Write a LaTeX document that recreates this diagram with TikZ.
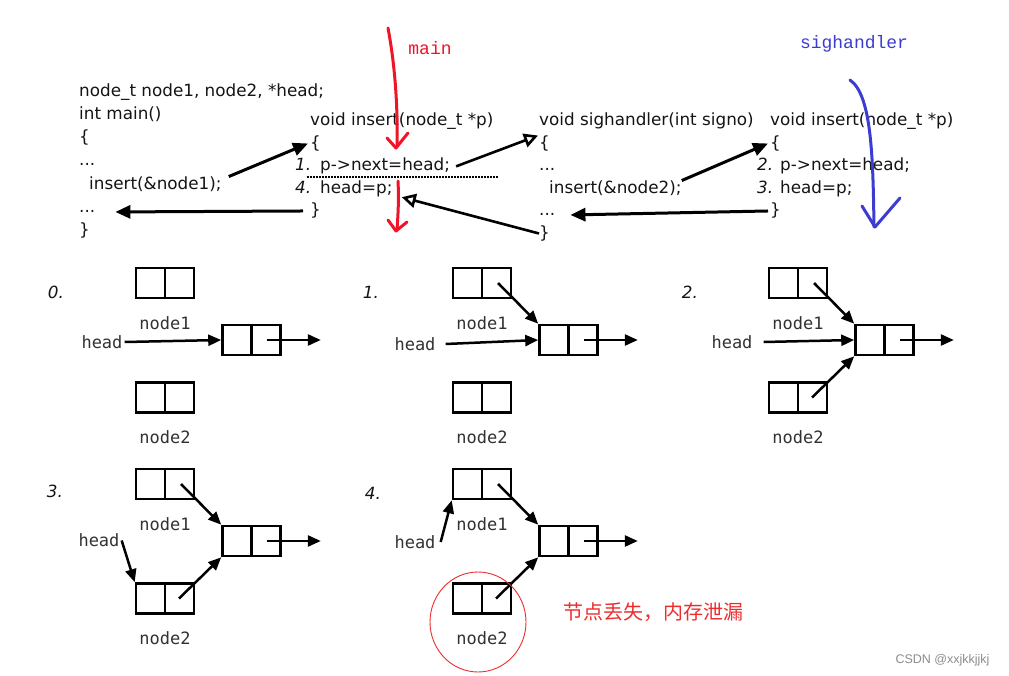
\documentclass[tikz,border=0pt]{standalone}
\usepackage{fontspec}
\setmainfont{DejaVu Sans}
\newfontfamily\monofont{DejaVu Sans Mono}
\newfontfamily\handfont{Liberation Mono}
\newfontfamily\cjkfont{Noto Sans CJK SC}
\newfontfamily\markfont{Liberation Sans}
\usetikzlibrary{arrows.meta, positioning, shapes.geometric}
\definecolor{codegray}{RGB}{20,20,20}
\definecolor{labelgray}{RGB}{50,50,50}
\definecolor{handred}{RGB}{240,20,40}
\definecolor{handblue}{RGB}{60,60,210}
\definecolor{notered}{RGB}{235,45,45}
\definecolor{markgray}{RGB}{140,140,140}
\tikzset{
  codeline/.style={
    anchor=base west, inner sep=0pt, text=codegray,
    font=\fontsize{16.8}{20}\selectfont
  },
  stepno/.style={
    codeline, font=\fontsize{16.8}{20}\selectfont\itshape
  },
  listbox/.style={
    draw=black, fill=white, line width=2.6pt,
    minimum width=58pt, minimum height=30pt, inner sep=0pt,
    path picture={\draw[line width=2.6pt]
      (path picture bounding box.north) -- (path picture bounding box.south);}
  },
  nodelabel/.style={
    font=\monofont\fontsize{17}{20}\selectfont,
    text=labelgray, inner sep=2pt
  },
  panelno/.style={
    font=\fontsize{16.8}{20}\selectfont\itshape, text=codegray
  },
  callarrow/.style={
    -{Triangle[length=15pt,width=13pt]}, line width=3pt
  },
  sigarrow/.style={
    -{Triangle[open,length=14pt,width=14pt]}, line width=2.6pt
  },
  ptrarrow/.style={
    -{Triangle[length=13pt,width=11pt]}, line width=2.5pt
  },
  handpen/.style={
    line width=3pt, line cap=round, line join=round
  },
}
\begin{document}
\begin{tikzpicture}[x=1pt, y=1pt]

  \useasboundingbox (0,0) rectangle (1009,-676);

  %% main()
  \node[codeline] (mdecl)  at (79,-96.5)  {node\_t node1, node2, *head;};
  \node[codeline] (mint)   at (79,-120)   {int main()};
  \node[codeline] (mopen)  at (79,-143)   {\{};
  \node[codeline] (mdots1) at (79,-166)   {...};
  \node[codeline] (mcall)  at (89,-189.5) {insert(\&node1);};
  \node[codeline] (mdots2) at (79,-213)   {...};
  \node[codeline] (mclose) at (79,-236)   {\}};

  %% insert() from main
  \node[codeline] (idecl)  at (310,-126)   {void insert(node\_t *p)};
  \node[codeline] (iopen)  at (310,-148.5) {\{};
  \node[stepno]   (istep1) at (295,-171)   {1.};
  \node[codeline] (inext)  at (320,-171)   {p->next=head;};
  \node[stepno]   (istep4) at (295,-193.5) {4.};
  \node[codeline] (ihead)  at (320,-193.5) {head=p;};
  \node[codeline] (iclose) at (310,-216)   {\}};

  %% sighandler()
  \node[codeline] (sdecl)  at (539,-126)   {void sighandler(int signo)};
  \node[codeline] (sopen)  at (539,-148.5) {\{};
  \node[codeline] (sdots1) at (539,-171)   {...};
  \node[codeline] (scall)  at (549,-193.5) {insert(\&node2);};
  \node[codeline] (sdots2) at (539,-216)   {...};
  \node[codeline] (sclose) at (539,-238.5) {\}};

  %% insert() from sighandler
  \node[codeline] (jdecl)  at (770,-126)   {void insert(node\_t *p)};
  \node[codeline] (jopen)  at (770,-148.5) {\{};
  \node[stepno]   (jstep2) at (757,-171)   {2.};
  \node[codeline] (jnext)  at (780,-171)   {p->next=head;};
  \node[stepno]   (jstep3) at (757,-193.5) {3.};
  \node[codeline] (jhead)  at (780,-193.5) {head=p;};
  \node[codeline] (jclose) at (770,-216)   {\}};

  %% calls and returns
  \draw[callarrow] ([xshift=7pt]mcall.north east) -- ([xshift=-2pt]iopen.west);
  \draw[callarrow] ([xshift=-7pt]iclose.west) -- ([xshift=20pt]mdots2.east);
  \draw[sigarrow] ([xshift=6pt]inext.east) -- ([xshift=-1pt]sopen.north west);
  \draw[sigarrow] (sclose.west) -- ([xshift=9pt]ihead.south east);
  \draw[callarrow] (scall.north east) -- ([xshift=-2pt]jopen.west);
  \draw[callarrow] ([xshift=-2pt]jclose.west) -- ([xshift=15pt]sdots2.east);

  \draw[line width=2pt, dash pattern=on 1.6pt off 1.4pt] (307,-177) -- (498,-177);

  %% hand marks
  \draw[handpen, handred] (388,-28) .. controls (394,-60) and (398,-100) .. (397,-146);
  \draw[handpen, handred] (387,-138) -- (396,-148) -- (408,-133);
  \draw[handpen, handred] (398,-181) .. controls (399,-200) and (398,-215) .. (397,-230);
  \draw[handpen, handred] (388,-220) -- (396,-231) -- (407,-222);
  \node[font=\handfont\fontsize{18}{20}\selectfont, text=handred] (mainlbl) at (430,-48) {main};

  \draw[handpen, handblue] (850,-80) .. controls (872,-95) and (873,-160) .. (874,-227);
  \draw[handpen, handblue] (862,-206) -- (875,-227) -- (900,-198);
  \node[font=\handfont\fontsize{18}{20}\selectfont, text=handblue] (siglbl) at (854,-44) {sighandler};

  %% 0.
  \node[panelno] (p0) at (56,-292) {0.};
  \node[listbox] (n1p0) at (165,-283) {};
  \node[nodelabel, below=15pt of n1p0] (n1l0) {node1};
  \node[listbox] (lst0) at (251.5,-340) {};
  \node[listbox] (n2p0) at (165,-397.5) {};
  \node[nodelabel, below=15pt of n2p0] (n2l0) {node2};
  \node[nodelabel] (hd0) at (102,-342) {head};
  \coordinate (nil0) at ([xshift=39pt]lst0.east);
  \draw[ptrarrow] (hd0.east) -- (lst0.west);
  \draw[ptrarrow] ([xshift=15pt]lst0.center) -- (nil0);

  %% 1.
  \begin{scope}[shift={(317,0)}]
    \node[panelno] (p1) at (54,-292) {1.};
    \node[listbox] (n1p1) at (165,-283) {};
    \node[nodelabel, below=15pt of n1p1] (n1l1) {node1};
    \node[listbox] (lst1) at (251.5,-340) {};
    \node[listbox] (n2p1) at (165,-397.5) {};
    \node[nodelabel, below=15pt of n2p1] (n2l1) {node2};
    \node[nodelabel] (hd1) at (98,-344) {head};
    \coordinate (nil1) at ([xshift=39pt]lst1.east);
    \draw[ptrarrow] ([xshift=8pt]hd1.east) -- (lst1.west);
    \draw[ptrarrow] ([xshift=15pt]lst1.center) -- (nil1);
    \draw[ptrarrow] ([xshift=16pt]n1p1.center) -- (lst1.north west);
  \end{scope}

  %% 2.
  \begin{scope}[shift={(633,0)}]
    \node[panelno] (p2) at (57,-292) {2.};
    \node[listbox] (n1p2) at (165,-283) {};
    \node[nodelabel, below=15pt of n1p2] (n1l2) {node1};
    \node[listbox] (lst2) at (251.5,-340) {};
    \node[listbox] (n2p2) at (165,-397.5) {};
    \node[nodelabel, below=15pt of n2p2] (n2l2) {node2};
    \node[nodelabel] (hd2) at (99,-342) {head};
    \coordinate (nil2) at ([xshift=39pt]lst2.east);
    \draw[ptrarrow] ([xshift=9pt]hd2.east) -- (lst2.west);
    \draw[ptrarrow] ([xshift=15pt]lst2.center) -- (nil2);
    \draw[ptrarrow] ([xshift=16pt]n1p2.center) -- (lst2.north west);
    \draw[ptrarrow] ([xshift=14pt]n2p2.center) -- (lst2.south west);
  \end{scope}

  %% 3.
  \begin{scope}[shift={(0,-201)}]
    \node[panelno] (p3) at (55,-290) {3.};
    \node[listbox] (n1p3) at (165,-283) {};
    \node[nodelabel, below=15pt of n1p3] (n1l3) {node1};
    \node[listbox] (lst3) at (251.5,-340) {};
    \node[listbox] (n2p3) at (165,-397.5) {};
    \node[nodelabel, below=15pt of n2p3] (n2l3) {node2};
    \node[nodelabel] (hd3) at (99,-339.5) {head};
    \coordinate (nil3) at ([xshift=39pt]lst3.east);
    \draw[ptrarrow] (hd3.east) -- (n2p3.north west);
    \draw[ptrarrow] ([xshift=15pt]lst3.center) -- (nil3);
    \draw[ptrarrow] ([xshift=16pt]n1p3.center) -- (lst3.north west);
    \draw[ptrarrow] ([xshift=14pt]n2p3.center) -- (lst3.south west);
  \end{scope}

  %% 4.
  \begin{scope}[shift={(317,-201)}]
    \node[panelno] (p4) at (56,-292) {4.};
    \node[listbox] (n1p4) at (165,-283) {};
    \node[nodelabel, below=15pt of n1p4] (n1l4) {node1};
    \node[listbox] (lst4) at (251.5,-340) {};
    \node[listbox] (n2p4) at (165,-397.5) {};
    \node[nodelabel, below=15pt of n2p4] (n2l4) {node2};
    \node[nodelabel] (hd4) at (98,-341) {head};
    \coordinate (nil4) at ([xshift=39pt]lst4.east);
    \draw[ptrarrow] ([xshift=3pt]hd4.east) -- (n1p4.south west);
    \draw[ptrarrow] ([xshift=15pt]lst4.center) -- (nil4);
    \draw[ptrarrow] ([xshift=16pt]n1p4.center) -- (lst4.north west);
    \draw[ptrarrow] ([xshift=14pt]n2p4.center) -- (lst4.south west);
  \end{scope}

  %% lost node
  \node[ellipse, draw=notered, line width=0.9pt, minimum width=96pt,
    minimum height=100pt] (leak) at (478,-622) {};
  \node[font=\cjkfont\fontsize{20}{24}\selectfont, text=notered, anchor=west]
    (leaktxt) at (560,-612) {节点丢失，内存泄漏};

  \node[font=\markfont\fontsize{12.5}{14}\selectfont, text=markgray, anchor=east]
    (csdn) at (993,-660) {CSDN @xxjkkjjkj};

\end{tikzpicture}
\end{document}
